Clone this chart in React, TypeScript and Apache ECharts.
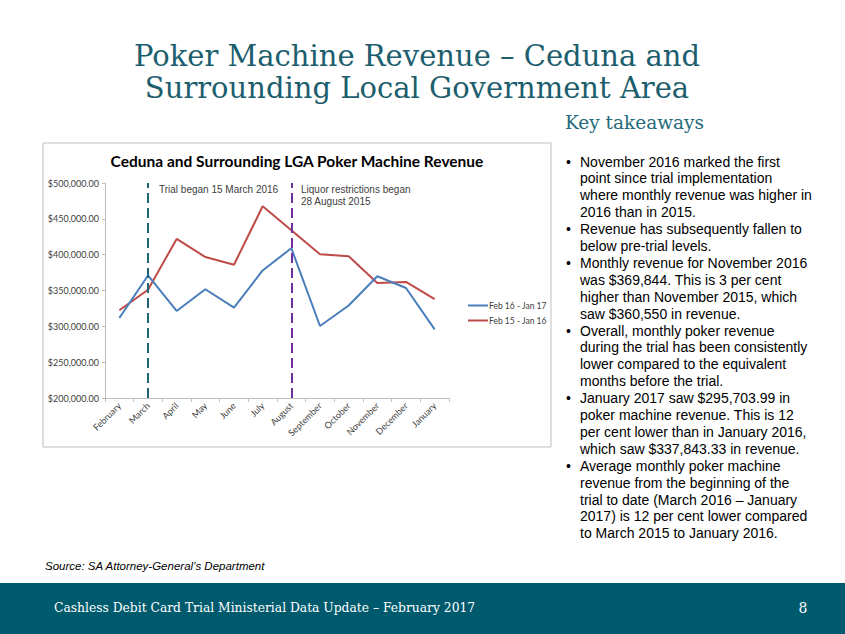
import React, { useEffect, useRef } from "react";
import * as echarts from "echarts";

const months = ["February", "March", "April", "May", "June", "July", "August", "September", "October", "November", "December", "January"];
const seriesNames = ["Feb 16 - Jan 17", "Feb 15 - Jan 16"];
const feb16Jan17 = [311600, 371000, 321400, 351700, 326000, 378000, 409000, 300500, 329000, 369844, 353500, 295704];
const feb15Jan16 = [322400, 351000, 422000, 396700, 386000, 467500, 434000, 400500, 397700, 360550, 362000, 337843];
const yMin = 200000;
const yMax = 500000;
const yStep = 50000;
const markers = [
  { month: "March", color: "#1f6578", label: "Trial began 15 March 2016" },
  { month: "August", color: "#7030a0", label: "Liquor restrictions began\n28 August 2015" },
];

const slideTitle = "Poker Machine Revenue – Ceduna and\nSurrounding Local Government Area";
const chartTitle = "Ceduna and Surrounding LGA Poker Machine Revenue";
const sideHeading = "Key takeaways";
const bullets = [
  ["November 2016 marked the first", "point since trial implementation", "where monthly revenue was higher in", "2016 than in 2015."],
  ["Revenue has subsequently fallen to", "below pre-trial levels."],
  ["Monthly revenue for November 2016", "was $369,844. This is 3 per cent", "higher than November 2015, which", "saw $360,550 in revenue."],
  ["Overall, monthly poker revenue", "during the trial has been consistently", "lower compared to the equivalent", "months before the trial."],
  ["January 2017 saw $295,703.99 in", "poker machine revenue. This is 12", "per cent lower than in January 2016,", "which saw $337,843.33 in revenue."],
  ["Average monthly poker machine", "revenue from the beginning of the", "trial to date (March 2016 – January", "2017) is 12 per cent lower compared", "to March 2015 to January 2016."],
];
const sourceText = "Source: SA Attorney-General’s Department";
const footerText = "Cashless Debit Card Trial Ministerial Data Update – February 2017";
const pageNumber = "8";

export default function App() {
  const ref = useRef<HTMLDivElement>(null);
  useEffect(() => {
    if (!ref.current) return;
    const chart = echarts.init(ref.current, undefined, { renderer: "svg" });
    const lh = 16.9;
    const startY = 161.5;
    const bulletGraphics: any[] = [];
    let idx = 0;
    bullets.forEach((lines) => {
      const y = startY + idx * lh - lh / 2;
      bulletGraphics.push({
        type: "text",
        style: { text: "•", x: 566, y, font: "14px 'Liberation Sans', Arial", fill: "#000", lineHeight: lh, verticalAlign: "top" },
      });
      bulletGraphics.push({
        type: "text",
        style: { text: lines.join("\n"), x: 580, y, font: "14px 'Liberation Sans', Arial", fill: "#000", lineHeight: lh, verticalAlign: "top" },
      });
      idx += lines.length;
    });

    chart.setOption({
      animation: false,
      backgroundColor: "#ffffff",
      grid: { left: 105, top: 183, width: 344, height: 215, containLabel: false },
      legend: {
        orient: "vertical",
        left: 463,
        top: 296,
        icon: "rect",
        itemWidth: 20,
        itemHeight: 2,
        itemGap: 6,
        textStyle: { fontSize: 8.5, color: "#404040", fontFamily: "Lato, 'Liberation Sans'", padding: [0, 0, 0, -4] },
        data: seriesNames,
      },
      xAxis: {
        type: "category",
        data: months,
        boundaryGap: true,
        axisLine: { lineStyle: { color: "#bfbfbf" } },
        axisTick: { show: true, length: 4, lineStyle: { color: "#bfbfbf" } },
        axisLabel: { rotate: 45, fontSize: 9, color: "#404040", fontFamily: "Lato, 'Liberation Sans'", margin: 6, interval: 0 },
        splitLine: { show: false },
      },
      yAxis: {
        type: "value",
        min: yMin,
        max: yMax,
        interval: yStep,
        axisLine: { show: true, lineStyle: { color: "#bfbfbf" } },
        axisTick: { show: true, length: 3, lineStyle: { color: "#bfbfbf" } },
        splitLine: { show: false },
        axisLabel: {
          fontSize: 9,
          color: "#404040",
          fontFamily: "Lato, 'Liberation Sans'",
          margin: 6,
          formatter: (v: number) => "$" + v.toLocaleString("en-US", { minimumFractionDigits: 2, maximumFractionDigits: 2 }),
        },
      },
      series: [
        {
          name: seriesNames[0],
          type: "line",
          data: feb16Jan17,
          symbol: "none",
          lineStyle: { width: 2, color: "#4a7ebb" },
          itemStyle: { color: "#4a7ebb" },
          z: 3,
          markLine: {
            silent: true,
            symbol: "none",
            label: { show: false },
            data: markers.map((m) => ({ xAxis: m.month, lineStyle: { color: m.color, type: [10, 5], width: 2 } })),
          },
        },
        {
          name: seriesNames[1],
          type: "line",
          data: feb15Jan16,
          symbol: "none",
          lineStyle: { width: 2, color: "#be4b48" },
          itemStyle: { color: "#be4b48" },
          z: 2,
        },
      ],
      graphic: [
        { type: "rect", z: -10, shape: { x: 43, y: 143, width: 508, height: 304 }, style: { fill: "#fff", stroke: "#bfbfbf", lineWidth: 1 } },
        {
          type: "text",
          style: { text: slideTitle, x: 417, y: 40, font: "29px 'DejaVu Serif', Georgia, serif", fill: "#1d5e6e", align: "center", verticalAlign: "top", lineHeight: 32 },
        },
        {
          type: "text",
          style: { text: sideHeading, x: 565, y: 113, font: "18.5px 'DejaVu Serif', Georgia, serif", fill: "#24697a", verticalAlign: "top" },
        },
        {
          type: "text",
          style: { text: chartTitle, x: 297, y: 161, font: "bold 15.5px Lato, 'Liberation Sans'", fill: "#000", align: "center", verticalAlign: "middle" },
        },
        {
          type: "text",
          style: { text: markers[0].label, x: 159, y: 184, font: "10px 'Liberation Sans', Arial", fill: "#404040", verticalAlign: "top", lineHeight: 11.5 },
        },
        {
          type: "text",
          style: { text: markers[1].label, x: 301, y: 184, font: "10px 'Liberation Sans', Arial", fill: "#404040", verticalAlign: "top", lineHeight: 11.5 },
        },
        ...bulletGraphics,
        {
          type: "text",
          style: { text: sourceText, x: 45, y: 566, font: "italic 11.5px 'Liberation Sans', Arial", fill: "#000", verticalAlign: "middle" },
        },
        { type: "rect", shape: { x: 0, y: 583, width: 845, height: 51 }, style: { fill: "#005a6e" } },
        {
          type: "text",
          style: { text: footerText, x: 54, y: 608, font: "12.3px 'DejaVu Serif', Georgia, serif", fill: "#ffffff", verticalAlign: "middle" },
        },
        {
          type: "text",
          style: { text: pageNumber, x: 803, y: 608, font: "14px 'DejaVu Serif', Georgia, serif", fill: "#ffffff", align: "center", verticalAlign: "middle" },
        },
      ],
    });
    return () => chart.dispose();
  }, []);
  return <div ref={ref} style={{ position: "fixed", left: 0, top: 0, width: 845, height: 634 }} />;
}
